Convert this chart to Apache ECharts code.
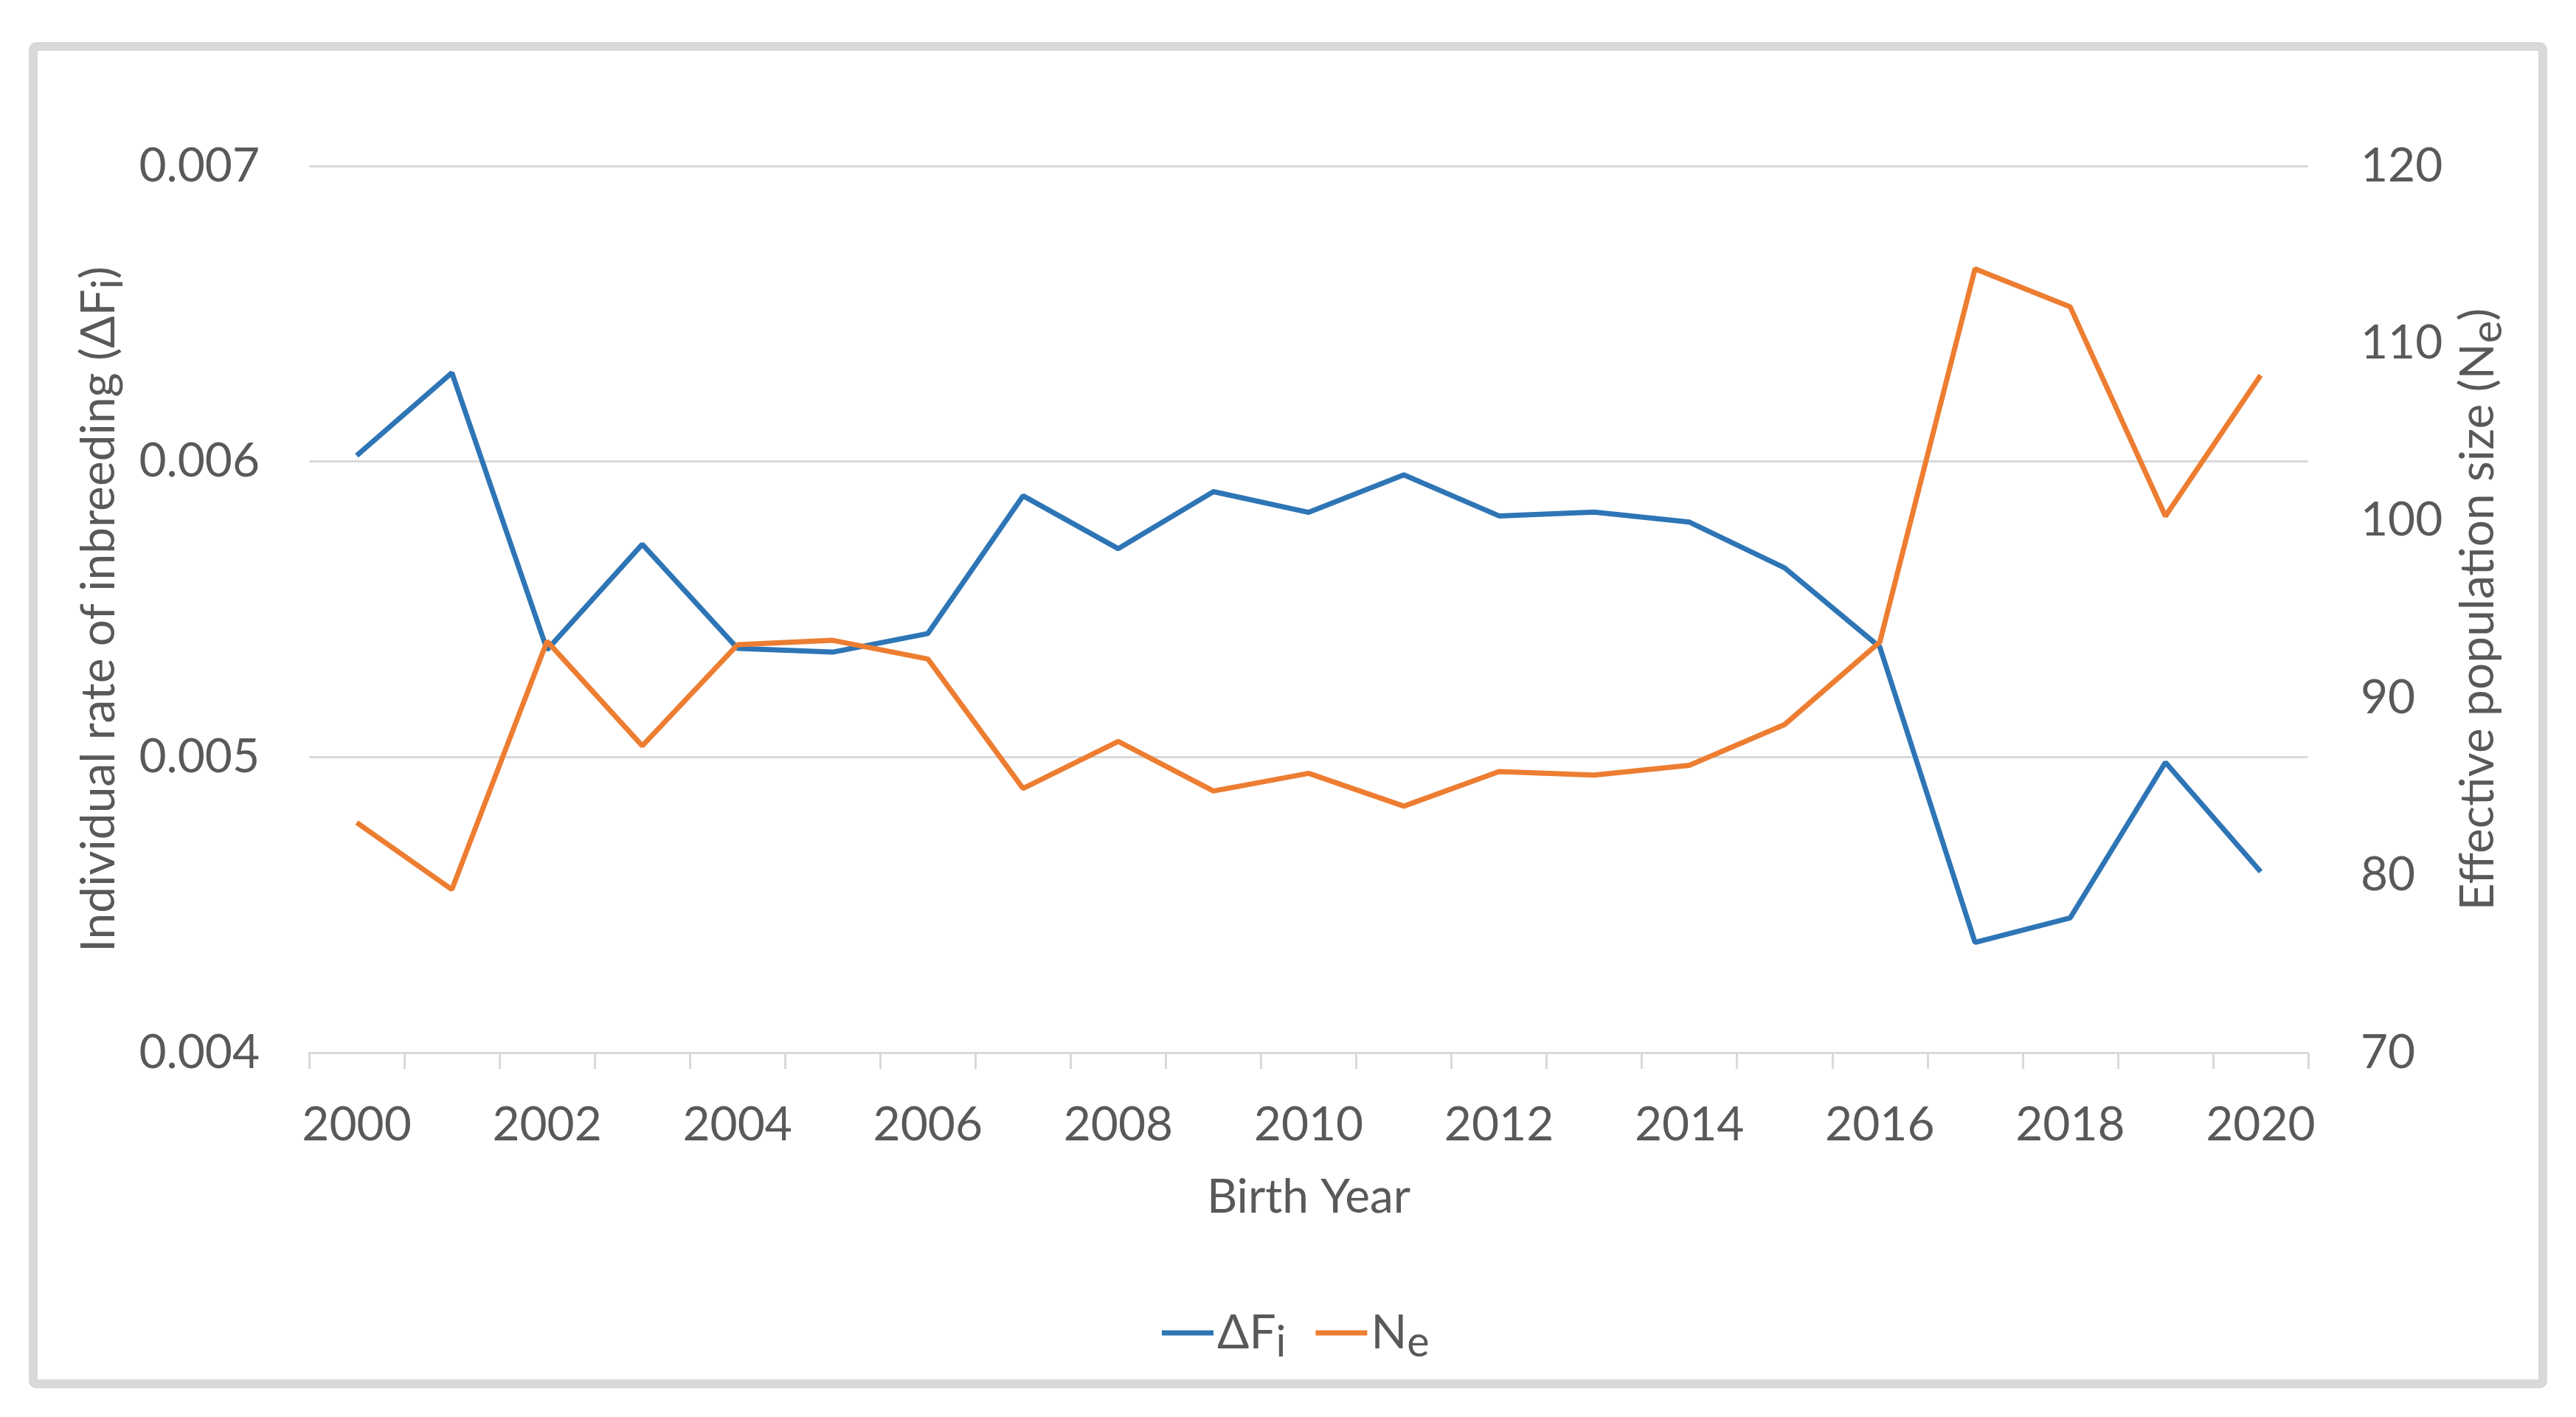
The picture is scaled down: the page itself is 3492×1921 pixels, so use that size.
<!DOCTYPE html>
<html>
<head>
<meta charset="utf-8">
<script src="https://cdn.jsdelivr.net/npm/echarts@6/dist/echarts.min.js"></script>
<style>
html,body{margin:0;padding:0;background:#fff;}
#c{width:3492px;height:1921px;}
</style>
</head>
<body>
<div id="c"></div>
<script>
const years = ['2000','2001','2002','2003','2004','2005','2006','2007','2008','2009','2010',
               '2011','2012','2013','2014','2015','2016','2017','2018','2019','2020'];
const deltaF = [0.00602,0.00630,0.005363,0.00572,0.005368,0.005355,0.005418,0.005884,0.005705,0.005898,0.005828,
                0.005955,0.005816,0.005829,0.005795,0.00564,0.005372,0.004373,0.004456,0.004982,0.004612];
const ne = [82.97,79.2,93.2,87.3,93.0,93.25,92.2,84.9,87.55,84.75,85.75,
            83.9,85.85,85.65,86.2,88.5,93.15,114.2,112.05,100.25,108.2];
const leftTicks = {min:0.004, max:0.007, interval:0.001};
const rightTicks = {min:70, max:120, interval:10};

const FONT = 'Lato';
const TXT = '#595959';
const FS = 64;
const richBase = {
  a: {fontFamily: FONT, fontSize: FS, color: TXT},
  s: {fontFamily: FONT, fontSize: FS*0.9, color: TXT, padding: [26,0,0,0]}
};

const chart = echarts.init(document.getElementById('c'));
chart.setOption({
  backgroundColor: '#ffffff',
  animation: false,
  graphic: [{
    type: 'rect',
    shape: {x: 45, y: 63, width: 3402, height: 1813, r: 4},
    style: {fill: 'none', stroke: '#d9d9d9', lineWidth: 12},
    silent: true, z: -1
  }],
  grid: {left: 419, right: 363, top: 225, bottom: 494, containLabel: false},
  legend: {
    bottom: 67,
    left: 1570,
    itemWidth: 70,
    itemHeight: 14,
    itemGap: 40,
    icon: 'path://M0,0 L70,0 L70,7 L0,7 Z',
    data: ['dF', 'Ne'],
    formatter: function (n) { return n === 'dF' ? '{a|ΔF}{s|i}' : '{a|N}{s|e}'; },
    textStyle: {fontFamily: FONT, fontSize: FS, color: TXT, rich: richBase}
  },
  xAxis: {
    type: 'category',
    data: years,
    boundaryGap: true,
    name: 'Birth Year',
    nameLocation: 'middle',
    nameGap: 164,
    nameTextStyle: {fontFamily: FONT, fontSize: FS, color: TXT},
    axisLine: {lineStyle: {color: '#d9d9d9', width: 3}},
    axisTick: {show: true, interval: 0, length: 22, lineStyle: {color: '#d9d9d9', width: 3}},
    axisLabel: {interval: 1, margin: 66, fontFamily: FONT, fontSize: FS, color: TXT},
    splitLine: {show: false}
  },
  yAxis: [{
    type: 'value',
    min: leftTicks.min, max: leftTicks.max, interval: leftTicks.interval,
    position: 'left',
    name: '{a|Individual rate of inbreeding (ΔF}{s|i}{a|)}',
    nameLocation: 'middle',
    nameRotate: 90,
    nameGap: 243,
    nameTextStyle: {fontFamily: FONT, fontSize: FS, color: TXT, rich: richBase},
    axisLine: {show: false},
    axisTick: {show: false},
    axisLabel: {margin: 67, fontFamily: FONT, fontSize: FS, color: TXT,
      formatter: v => v.toFixed(3)},
    splitLine: {show: true, lineStyle: {color: '#d9d9d9', width: 3}}
  }, {
    type: 'value',
    min: rightTicks.min, max: rightTicks.max, interval: rightTicks.interval,
    position: 'right',
    name: '{a|Effective population size (N}{s|e}{a|)}',
    nameLocation: 'middle',
    nameRotate: 90,
    nameGap: 188,
    nameTextStyle: {fontFamily: FONT, fontSize: FS, color: TXT, rich: richBase},
    axisLine: {show: false},
    axisTick: {show: false},
    axisLabel: {margin: 71, fontFamily: FONT, fontSize: FS, color: TXT},
    splitLine: {show: false}
  }],
  series: [{
    name: 'dF',
    type: 'line',
    yAxisIndex: 0,
    data: deltaF,
    symbol: 'none',
    lineStyle: {color: '#2E75B6', width: 7},
    itemStyle: {color: '#2E75B6'},
    z: 2
  }, {
    name: 'Ne',
    type: 'line',
    yAxisIndex: 1,
    data: ne,
    symbol: 'none',
    lineStyle: {color: '#ED7D31', width: 7},
    itemStyle: {color: '#ED7D31'},
    z: 3
  }]
});
</script>
</body>
</html>
